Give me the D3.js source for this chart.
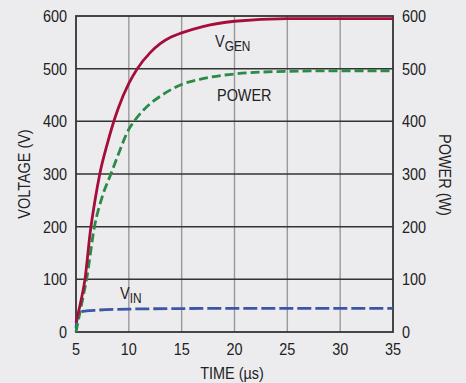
<!DOCTYPE html>
<html>
<head>
<meta charset="utf-8">
<script src="https://cdn.jsdelivr.net/npm/d3@7"></script>
<style>
  body { margin: 0; background: #ececef; }
  svg { display: block; }
  text { font-family: "Liberation Sans", Arial, sans-serif; fill: #222; }
</style>
</head>
<body>
<svg width="466" height="383"></svg>
<script>
// time in microseconds
var timeVals = [5, 5.5, 5.85, 6.35, 6.8, 7.25, 8, 8.5, 9, 10, 10.8, 12, 13, 14, 15, 17, 20, 25, 30, 35];
var vgenVals = [18, 62, 100, 190, 250, 300, 360, 395, 425, 472, 500, 530, 548, 560, 568, 580, 590, 595, 595, 595];

var powerTime = [5, 5.5, 6, 6.75, 7.5, 8.3, 9, 10, 10.5, 12, 13, 15, 17, 20, 25, 30, 35];
var powerVals = [0, 50, 100, 200, 258, 300, 337, 385, 400, 433, 448, 470, 481, 490, 495, 496, 496];

var vinTime = [5, 5.15, 5.4, 6, 7, 10, 15, 20, 35];
var vinVals = [8, 30, 38, 40, 41.5, 43.5, 44.5, 45, 45];

var xTicks = [5, 10, 15, 20, 25, 30, 35];
var yTicks = [0, 100, 200, 300, 400, 500, 600];

var svg = d3.select("svg");

var x = d3.scaleLinear().domain([5, 35]).range([76, 393]);
var y = d3.scaleLinear().domain([0, 600]).range([332, 16]);

// condensed look: squeeze text horizontally
function label(px, py, anchor, rot) {
    return svg.append("text")
        .attr("transform", "translate(" + px + "," + py + ")" + (rot ? " rotate(" + rot + ")" : "") + " scale(0.85,1)")
        .attr("text-anchor", anchor)
        .attr("font-size", 17);
}

// vertical grid (lighter)
svg.selectAll(".vgrid")
    .data(xTicks.slice(1, -1))
    .enter().append("line")
    .attr("x1", function(d) { return x(d); })
    .attr("x2", function(d) { return x(d); })
    .attr("y1", y(600))
    .attr("y2", y(0))
    .attr("stroke", "#999")
    .attr("stroke-width", 1.4);

// horizontal grid (dark)
svg.selectAll(".hgrid")
    .data(yTicks.slice(1, -1))
    .enter().append("line")
    .attr("x1", x(5))
    .attr("x2", x(35))
    .attr("y1", function(d) { return y(d); })
    .attr("y2", function(d) { return y(d); })
    .attr("stroke", "#333")
    .attr("stroke-width", 1.5);

// frame
svg.append("rect")
    .attr("x", x(5))
    .attr("y", y(600))
    .attr("width", x(35) - x(5))
    .attr("height", y(0) - y(600))
    .attr("fill", "none")
    .attr("stroke", "#333")
    .attr("stroke-width", 1.8);

// tick labels
yTicks.forEach(function(d) {
    label(67, y(d) + 6, "end").text(d);
    label(402, y(d) + 6, "start").text(d);
});
xTicks.forEach(function(d) {
    label(x(d), 355, "middle").text(d);
});

// axis titles
label(232, 379, "middle").text("TIME (µs)");
label(30, 174, "middle", -90).text("VOLTAGE (V)");
label(439, 175, "middle", 90).text("POWER (W)");

// curves
var line = d3.line()
    .x(function(d) { return x(d[0]); })
    .y(function(d) { return y(d[1]); })
    .curve(d3.curveMonotoneX);

svg.append("path")
    .datum(d3.zip(vinTime, vinVals))
    .attr("d", line)
    .attr("fill", "none")
    .attr("stroke", "#3b56a6")
    .attr("stroke-width", 2.8)
    .attr("stroke-dasharray", "14,4");

svg.append("path")
    .datum(d3.zip(powerTime, powerVals))
    .attr("d", line)
    .attr("fill", "none")
    .attr("stroke", "#2a8a46")
    .attr("stroke-width", 2.8)
    .attr("stroke-dasharray", "9,4");

svg.append("path")
    .datum(d3.zip(timeVals, vgenVals))
    .attr("d", line)
    .attr("fill", "none")
    .attr("stroke", "#a50d3a")
    .attr("stroke-width", 2.8);

// curve labels
var vgen = label(215, 47, "start");
vgen.append("tspan").text("V");
vgen.append("tspan").attr("font-size", 14).attr("dy", 3.5).text("GEN");

label(217, 101, "start").text("POWER");

var vin = label(120, 298.5, "start");
vin.append("tspan").text("V");
vin.append("tspan").attr("font-size", 14).attr("dy", 4).text("IN");
</script>
</body>
</html>
